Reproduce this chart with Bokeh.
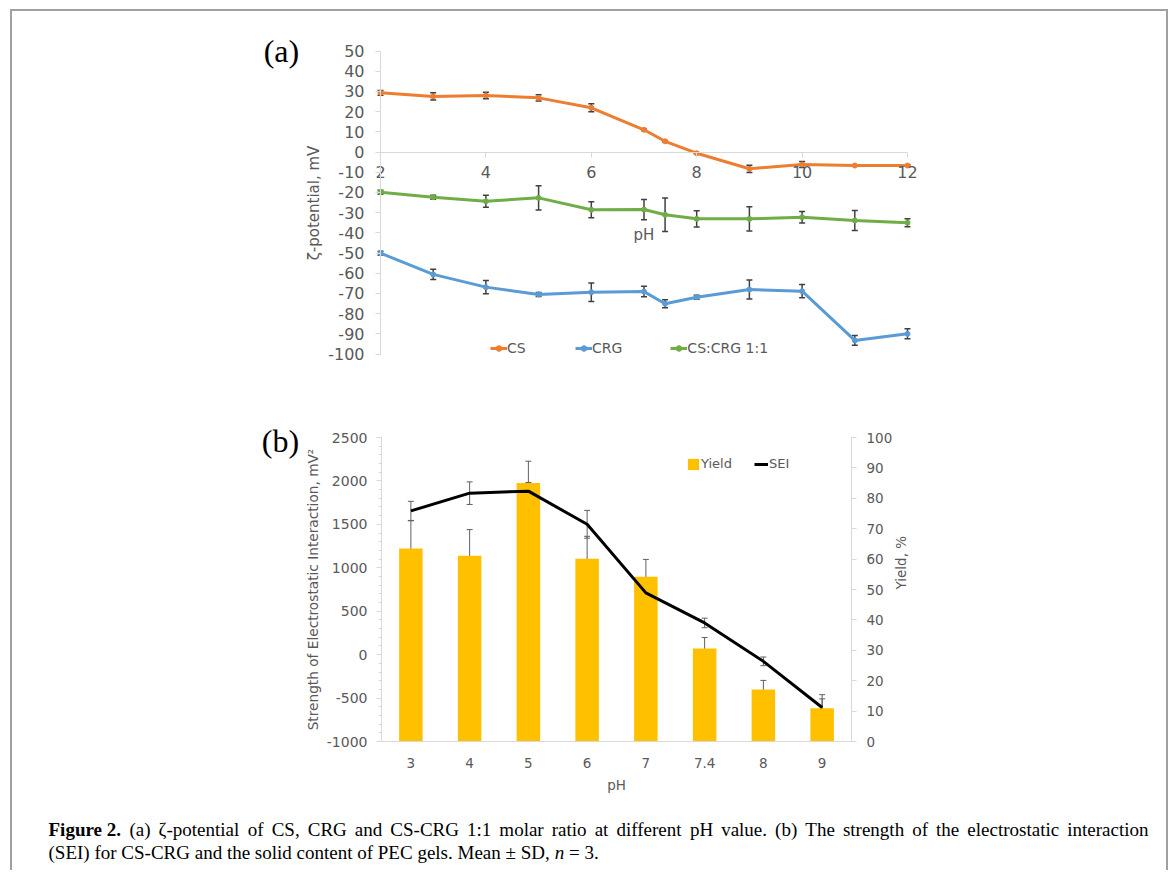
import math
from bokeh.plotting import figure
from bokeh.models import (ColumnDataSource, Range1d, FactorRange, LinearAxis, FixedTicker,
                          Whisker, TeeHead, Legend, LegendItem)
from bokeh.layouts import column, row
from bokeh.embed import file_html
from bokeh.resources import INLINE
from bokeh.core.properties import value

# ---------------- data: panel (a) ----------------
ph_a = [2, 3, 4, 5, 6, 7, 7.4, 8, 9, 10, 11, 12]
cs = [29.3, 27.5, 28.0, 26.8, 21.9, 11.0, 5.3, -0.6, -8.3, -6.2, -6.7, -6.7]
cs_err = [1.2, 1.8, 1.6, 1.5, 2.0, 0.4, 0.4, 0.4, 1.8, 1.5, 0.4, 0.4]
crg = [-50.1, -60.6, -66.9, -70.5, -69.4, -69.1, -75.1, -71.9, -68.1, -68.9, -93.3, -90.0]
crg_err = [1.0, 2.5, 3.3, 1.0, 4.6, 2.6, 2.0, 1.0, 4.7, 3.3, 2.4, 2.5]
mix = [-19.9, -22.4, -24.4, -22.7, -28.6, -28.5, -31.1, -33.1, -33.1, -32.3, -33.9, -35.0]
mix_err = [1.0, 1.0, 3.0, 6.0, 4.0, 5.0, 8.3, 4.0, 6.0, 2.9, 5.0, 2.0]
a_xticks = [2, 4, 6, 8, 10, 12]
a_yticks = list(range(-100, 51, 10))

# ---------------- data: panel (b) ----------------
ph_b = ["3", "4", "5", "6", "7", "7.4", "8", "9"]
yield_pct = [63.5, 61.1, 85.0, 60.1, 54.2, 30.6, 17.1, 10.9]
yield_err = [9.1, 8.6, 7.2, 7.4, 5.7, 3.6, 3.0, 4.5]
sei = [1655, 1859, 1882, 1501, 711, 365, -77, -609]
sei_err = [110, 130, 100, 160, 60, 55, 50, 100]
b_left_ticks = list(range(-1000, 2501, 500))
b_left_minor = list(range(-1000, 2501, 100))
b_right_ticks = list(range(0, 101, 10))

caption_bold = "Figure 2."
caption_l1 = ("(a) ζ-potential of CS, CRG and CS-CRG 1:1 molar ratio at different pH value. "
              "(b) The strength of the electrostatic interaction")
caption_l2a = "(SEI) for CS-CRG and the solid content of PEC gels. Mean ± SD,"
caption_n = "n"
caption_l2b = "= 3."

W = 1154
TXT = "#595959"
AXC = "#d9d9d9"
FONT = "DejaVu Sans"
SERIF = "Liberation Serif"

# approximate advance widths (1/1000 em) of the serif caption font, used to justify line 1
SERIF_W = {' ': 250, '(': 333, ')': 333, 'a': 444, 'b': 500, 'c': 444, 'd': 500, 'e': 444,
           'f': 333, 'g': 500, 'h': 500, 'i': 278, 'l': 278, 'm': 778, 'n': 500, 'o': 500,
           'p': 500, 'r': 333, 's': 389, 't': 278, 'u': 500, 'v': 500, 'C': 667, 'G': 722,
           'H': 722, 'R': 667, 'S': 556, 'T': 611, 'E': 611, 'P': 556, 'I': 333, 'M': 889,
           'D': 722, '1': 500, '2': 500, '3': 500, ':': 278, ',': 250, '.': 250, '-': 333,
           'ζ': 440, '±': 564, '=': 564}
SERIF_BW = {'F': 611, 'i': 278, 'g': 500, 'u': 556, 'r': 444, 'e': 444, ' ': 250, '2': 500,
            '.': 250}


def tw(s, fs, table):
    return sum(table.get(c, 500) for c in s) * fs / 1000.0


def no_align(p):
    try:
        p.frame_align = False
    except Exception:
        pass


def hyphen_labels(ticks):
    return {t: str(t) for t in ticks if t < 0}


def style_axis(ax, size):
    ax.axis_line_color = AXC
    ax.major_tick_line_color = AXC
    ax.minor_tick_line_color = None
    ax.major_label_text_color = TXT
    ax.major_label_text_font = FONT
    ax.major_label_text_font_size = size
    ax.axis_label_text_color = TXT
    ax.axis_label_text_font = FONT
    ax.axis_label_text_font_style = "normal"


# ================= panel (a) =================
# frame: page x 250..940, y 25..366 ; pH 2 -> x 380, 52.7 px/unit ; 2.02 px/mV
AXS = 52.7
AYS = 2.02
pa = figure(width=W, height=385,
            x_range=Range1d(2 - 130 / AXS, 2 - 130 / AXS + 690 / AXS),
            y_range=Range1d(126.5 / AYS - 341 / AYS, 126.5 / AYS),
            min_border_left=238, min_border_right=226, min_border_top=14, min_border_bottom=30,
            output_backend="svg", toolbar_location=None)
no_align(pa)
pa.xgrid.visible = False
pa.ygrid.visible = False
pa.outline_line_color = None

pa.xaxis.fixed_location = 0
pa.xaxis.bounds = (2, 12)
pa.xaxis.ticker = FixedTicker(ticks=a_xticks)
style_axis(pa.xaxis[0], "16px")
pa.xaxis.major_tick_out = 5
pa.xaxis.major_tick_in = 0
pa.xaxis.major_label_standoff = 9

pa.yaxis.fixed_location = 2
pa.yaxis.bounds = (-100, 50)
pa.yaxis.ticker = FixedTicker(ticks=a_yticks)
pa.yaxis.major_label_overrides = hyphen_labels(a_yticks)
pa.yaxis.axis_label = "ζ-potential, mV"
style_axis(pa.yaxis[0], "16px")
pa.yaxis.axis_label_text_font_size = "15px"
pa.yaxis.major_tick_out = 5
pa.yaxis.major_tick_in = 0
pa.yaxis.major_label_standoff = 11
pa.yaxis.axis_label_standoff = 2

series = [("CS", cs, cs_err, "#ED7D31"),
          ("CRG", crg, crg_err, "#5B9BD5"),
          ("CS:CRG 1:1", mix, mix_err, "#70AD47")]
items = []
for name, vals, errs, col in series:
    src = ColumnDataSource(dict(x=ph_a, y=vals,
                                upper=[v + e for v, e in zip(vals, errs)],
                                lower=[v - e for v, e in zip(vals, errs)]))
    ln = pa.line("x", "y", source=src, line_color=col, line_width=3)
    sc = pa.scatter("x", "y", source=src, size=5, fill_color=col, line_color=col)
    wh = Whisker(source=src, base="x", upper="upper", lower="lower", dimension="height",
                 line_color="#404040", line_width=1.5,
                 upper_head=TeeHead(size=6, line_color="#404040", line_width=1.5),
                 lower_head=TeeHead(size=6, line_color="#404040", line_width=1.5))
    pa.add_layout(wh)
    items.append(LegendItem(label=name, renderers=[ln, sc]))

leg_a = Legend(items=items, orientation="horizontal", location=(240, 10),
               background_fill_alpha=0, border_line_color=None, padding=0, margin=0,
               spacing=48, glyph_width=17, glyph_height=14, label_height=14,
               label_standoff=0, label_text_font=FONT, label_text_font_size="14px",
               label_text_color=TXT)
pa.add_layout(leg_a)

# x-axis title "pH" (drawn in the frame, below the y=0 axis) and panel tag
pa.text(x=[(a_xticks[0] + a_xticks[-1]) / 2], y=[-41.3], text=["pH"], text_font=value(FONT),
        text_font_size="15px", text_align="center", text_baseline="middle", text_color=TXT)
pa.text(x=[0.12], y=[50.2], text=["(a)"], text_font=value(SERIF), text_font_size="32px",
        text_align="center", text_baseline="middle", text_color="black")

# ================= panel (b) =================
BH = 404
BLW = 288
pbl = figure(width=BLW, height=BH, x_range=Range1d(0, BLW), y_range=Range1d(BH, 0),
             min_border=0, x_axis_location=None, y_axis_location=None,
             output_backend="svg", toolbar_location=None)
no_align(pbl)
pbl.xgrid.visible = False
pbl.ygrid.visible = False
pbl.outline_line_color = None
pbl.text(x=[268], y=[44], text=["(b)"], text_font=value(SERIF), text_font_size="32px",
         text_align="center", text_baseline="middle", text_color="black")

pb = figure(width=W - BLW, height=BH, x_range=FactorRange(*ph_b), y_range=Range1d(-1000, 2500),
            min_border_left=381 - 12 - BLW, min_border_right=315, min_border_top=41,
            min_border_bottom=59, output_backend="svg", toolbar_location=None)
no_align(pb)
pb.xgrid.visible = False
pb.ygrid.visible = False
pb.outline_line_color = None
pb.extra_y_ranges = {"yield": Range1d(0, 100)}

style_axis(pb.xaxis[0], "13.5px")
pb.xaxis.axis_label = "pH"
pb.xaxis.axis_label_text_font_size = "13.5px"
pb.xaxis.major_tick_line_color = None
pb.xaxis.major_label_standoff = 10
pb.xaxis.axis_label_standoff = 6

pb.yaxis.ticker = FixedTicker(ticks=b_left_ticks, minor_ticks=b_left_minor)
pb.yaxis.major_label_overrides = hyphen_labels(b_left_ticks)
pb.yaxis.axis_label = "Strength of Electrostatic Interaction, mV²"
style_axis(pb.yaxis[0], "14px")
pb.yaxis.minor_tick_line_color = AXC
pb.yaxis.axis_label_text_font_size = "13.7px"
pb.yaxis.major_tick_out = 5
pb.yaxis.major_tick_in = 0
pb.yaxis.minor_tick_out = 3
pb.yaxis.minor_tick_in = 0
pb.yaxis.major_label_standoff = 9
pb.yaxis.axis_label_standoff = 3

ry = LinearAxis(y_range_name="yield", axis_label="Yield, %",
                ticker=FixedTicker(ticks=b_right_ticks))
style_axis(ry, "13.5px")
ry.axis_label_text_font_size = "13.5px"
ry.major_tick_out = 5
ry.major_tick_in = 0
ry.major_label_standoff = 10
ry.axis_label_standoff = 6
try:
    ry.axis_label_orientation = math.pi / 2
except Exception:
    pass
pb.add_layout(ry, "right")

src_b = ColumnDataSource(dict(x=ph_b, y=yield_pct, s=sei,
                              yu=[v + e for v, e in zip(yield_pct, yield_err)],
                              yl=[v - e for v, e in zip(yield_pct, yield_err)],
                              su=[v + e for v, e in zip(sei, sei_err)],
                              sl=[v - e for v, e in zip(sei, sei_err)]))
bars = pb.vbar(x="x", top="y", bottom=0, width=0.4, source=src_b, fill_color="#FFC000",
               line_color=None, y_range_name="yield")
pb.add_layout(Whisker(source=src_b, base="x", upper="yu", lower="yl", dimension="height",
                      y_range_name="yield", line_color="#606060", line_width=1,
                      upper_head=TeeHead(size=6, line_color="#606060", line_width=1),
                      lower_head=TeeHead(size=6, line_color="#606060", line_width=1)))
sline = pb.line("x", "s", source=src_b, line_color="black", line_width=3)
pb.add_layout(Whisker(source=src_b, base="x", upper="su", lower="sl", dimension="height",
                      line_color="#606060", line_width=1,
                      upper_head=TeeHead(size=6, line_color="#606060", line_width=1),
                      lower_head=TeeHead(size=6, line_color="#606060", line_width=1)))

leg_b = Legend(items=[LegendItem(label="Yield", renderers=[bars]),
                      LegendItem(label="SEI", renderers=[sline])],
               orientation="horizontal", location=(305, 270),
               background_fill_alpha=0, border_line_color=None, padding=0, margin=0,
               spacing=22, glyph_width=14, glyph_height=14, label_height=14,
               label_standoff=1, label_text_font=FONT, label_text_font_size="13px",
               label_text_color=TXT)
pb.add_layout(leg_b)

# ================= caption =================
CH = 70
pc = figure(width=W, height=CH, x_range=Range1d(0, W), y_range=Range1d(CH, 0),
            min_border=0, x_axis_location=None, y_axis_location=None,
            output_backend="svg", toolbar_location=None)
no_align(pc)
pc.xgrid.visible = False
pc.ygrid.visible = False
pc.outline_line_color = None
CFS = 19
fs = f"{CFS}px"
X0 = 36            # caption left edge (page x 48)
LINE_W = 1100      # justified width of the first line
Y1, Y2 = 28.5, 51.5

# line 1: justified word by word
words = caption_l1.split(" ")
w_bold = tw(caption_bold, CFS, SERIF_BW)
w_words = [tw(w, CFS, SERIF_W) for w in words]
gap = (LINE_W - w_bold - sum(w_words)) / len(words)
xs = []
x = X0 + w_bold + gap
for w in w_words:
    xs.append(x)
    x += w + gap
pc.text(x=[X0], y=[Y1], text=[caption_bold], text_font=value(SERIF), text_font_size=fs,
        text_font_style="bold", text_baseline="middle", text_color="black")
pc.text(x=xs, y=[Y1] * len(words), text=words, text_font=value(SERIF), text_font_size=fs,
        text_baseline="middle", text_color="black")

# line 2: natural spacing
sp = tw(" ", CFS, SERIF_W)
x_n = X0 + tw(caption_l2a, CFS, SERIF_W) + sp
x_eq = x_n + tw(caption_n, CFS, SERIF_W) + sp
pc.text(x=[X0], y=[Y2], text=[caption_l2a], text_font=value(SERIF), text_font_size=fs,
        text_baseline="middle", text_color="black")
pc.text(x=[x_n], y=[Y2], text=[caption_n], text_font=value(SERIF), text_font_size=fs,
        text_font_style="italic", text_baseline="middle", text_color="black")
pc.text(x=[x_eq], y=[Y2], text=[caption_l2b], text_font=value(SERIF), text_font_size=fs,
        text_baseline="middle", text_color="black")

layout = column(pa, row(pbl, pb), pc,
                styles={"margin-left": "10px", "margin-top": "9px",
                        "border-top": "2px solid #a0a0a0",
                        "border-left": "2px solid #a0a0a0",
                        "border-right": "2px solid #a0a0a0"})

open("out.html", "w").write(file_html(layout, INLINE))
